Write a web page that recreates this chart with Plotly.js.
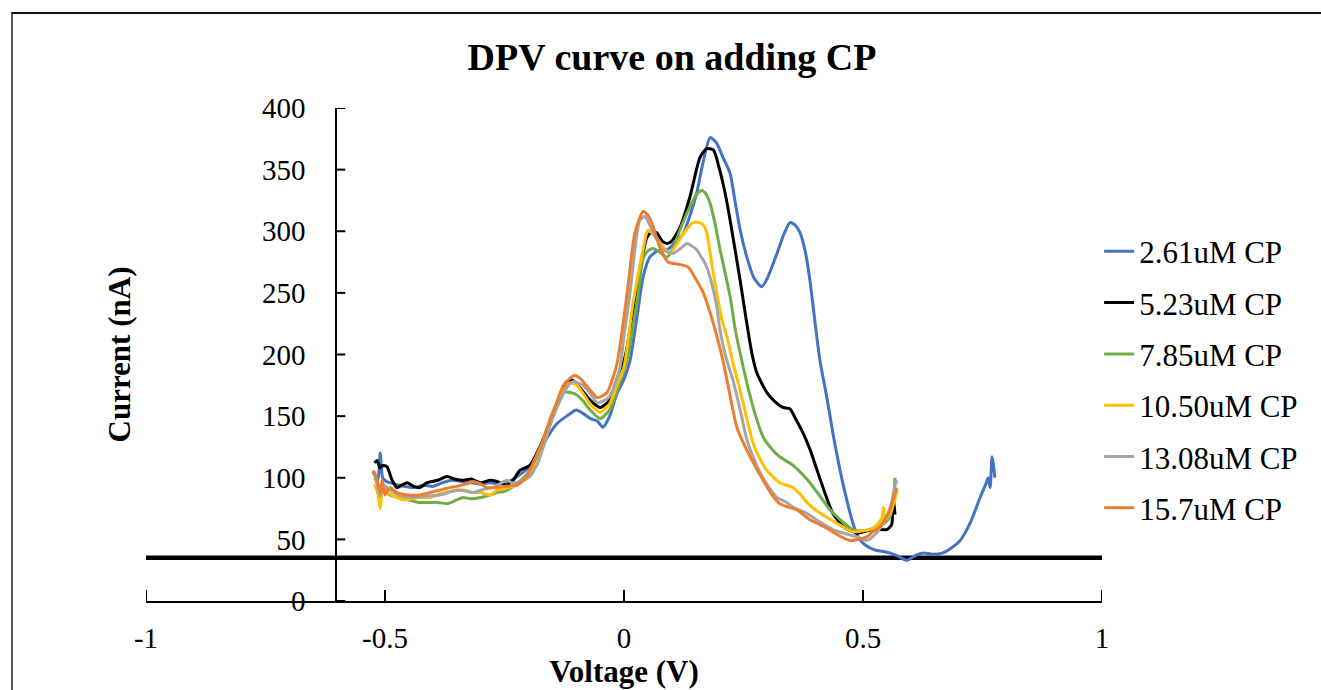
<!DOCTYPE html>
<html>
<head>
<meta charset="utf-8">
<script src="https://cdn.plot.ly/plotly-3.0.1.min.js"></script>
<style>
html,body{margin:0;padding:0;background:#fff;}
#wrap{position:relative;width:1321px;height:690px;overflow:hidden;}
#chart{position:absolute;left:0;top:0;width:1321px;height:690px;}
#frame{position:absolute;left:11px;top:12px;width:1400px;height:800px;border-top:2px solid #111;border-left:2px solid #555;pointer-events:none;}
</style>
</head>
<body>
<div id="wrap"><div id="chart"></div><div id="frame"></div></div>
<script>
// ---- data ----
const seriesNames = ["2.61uM CP", "5.23uM CP", "7.85uM CP", "10.50uM CP", "13.08uM CP", "15.7uM CP"];
const seriesColors = ["#4472C4", "#000000", "#70AD47", "#FFC000", "#A5A5A5", "#ED7D31"];

const v261 = [-0.525,-0.515,-0.51,-0.505,-0.497,-0.48,-0.46,-0.44,-0.42,-0.40,-0.38,-0.36,-0.34,-0.32,-0.30,-0.28,-0.26,-0.24,-0.22,-0.20,-0.18,-0.16,-0.14,-0.12,-0.10,-0.085,-0.07,-0.056,-0.044,-0.03,-0.015,0.0,0.0126,0.027,0.04,0.054,0.07,0.09,0.105,0.124,0.14,0.152,0.165,0.18,0.193,0.207,0.222,0.232,0.243,0.257,0.272,0.288,0.30,0.32,0.335,0.347,0.358,0.368,0.38,0.389,0.40,0.41,0.424,0.438,0.452,0.466,0.479,0.49,0.50,0.515,0.529,0.545,0.556,0.575,0.592,0.61,0.626,0.645,0.667,0.685,0.703,0.725,0.745,0.757,0.762,0.766,0.77,0.776];
const i261 = [105,98,120,100,97,95,93,92,94,93,96,98,97,96,95,96,95,97,102,108,118,133,144,150,155,152,148,146,141,150,168,180,195,230,263,279,284,285,290,298,315,331,355,376,372,360,347,325,301,279,262,255,262,282,298,307,305,299,282,260,225,195,166,134,106,82,63,52,47,43,41,40,39,36,33,37,39,38,39,43,49,64,84,95,100,92,117,100];

const v523 = [-0.522,-0.517,-0.51,-0.505,-0.496,-0.485,-0.475,-0.465,-0.454,-0.44,-0.427,-0.412,-0.39,-0.37,-0.355,-0.337,-0.32,-0.30,-0.28,-0.266,-0.245,-0.23,-0.218,-0.197,-0.176,-0.16,-0.148,-0.13,-0.12,-0.107,-0.09,-0.071,-0.05,-0.03,-0.015,0.0,0.006,0.027,0.048,0.058,0.068,0.08,0.09,0.10,0.117,0.138,0.159,0.173,0.187,0.20,0.212,0.222,0.243,0.257,0.268,0.278,0.299,0.315,0.333,0.347,0.36,0.375,0.39,0.404,0.42,0.437,0.46,0.487,0.51,0.529,0.55,0.56,0.563,0.567];
const i523 = [112,114,108,110,109,98,92,94,96,93,92,96,98,101,99,98,99,96,98,97,94,99,106,110,125,140,152,170,178,179,172,163,157,163,180,195,205,255,295,299,299,292,290,292,303,328,360,367,366,350,330,309,260,225,200,185,169,162,157,156,147,136,122,106,88,71,60,55,57,58,58,62,84,70];

const v785 = [-0.522,-0.515,-0.51,-0.505,-0.49,-0.47,-0.45,-0.43,-0.406,-0.39,-0.37,-0.35,-0.337,-0.32,-0.30,-0.28,-0.266,-0.25,-0.232,-0.215,-0.197,-0.18,-0.16,-0.145,-0.128,-0.11,-0.098,-0.085,-0.071,-0.05,-0.03,-0.015,0.006,0.027,0.04,0.05,0.061,0.075,0.09,0.105,0.117,0.138,0.152,0.163,0.172,0.18,0.19,0.20,0.222,0.232,0.243,0.264,0.278,0.291,0.31,0.326,0.354,0.37,0.389,0.41,0.431,0.455,0.479,0.50,0.529,0.545,0.556,0.563,0.567];
const i785 = [100,95,88,92,86,84,82,80,80,80,79,82,84,83,84,86,88,89,93,98,106,120,139,155,169,169,167,162,155,148,155,170,195,242,278,284,286,283,279,288,301,320,330,333,330,323,307,287,247,222,201,166,147,133,123,117,110,104,96,85,74,65,58,57,60,63,68,80,100];

const v1050 = [-0.522,-0.515,-0.51,-0.505,-0.495,-0.475,-0.454,-0.43,-0.406,-0.385,-0.36,-0.337,-0.316,-0.30,-0.28,-0.266,-0.245,-0.224,-0.20,-0.182,-0.165,-0.148,-0.13,-0.113,-0.098,-0.085,-0.071,-0.05,-0.03,-0.015,0.0,0.019,0.04,0.05,0.06,0.071,0.085,0.096,0.11,0.124,0.145,0.158,0.166,0.173,0.183,0.194,0.205,0.215,0.228,0.243,0.257,0.27,0.285,0.299,0.326,0.354,0.37,0.383,0.40,0.424,0.45,0.479,0.50,0.515,0.53,0.54,0.543,0.546,0.555,0.565,0.571];
const i1050 = [95,87,75,90,88,84,82,84,84,87,89,90,88,88,86,90,92,94,102,112,130,152,168,177,175,168,160,153,160,175,190,242,285,301,298,293,286,282,289,298,307,307,305,299,275,250,228,215,193,171,148,128,115,106,96,92,86,80,74,68,62,56,57,58,62,68,76,66,70,80,90];

const v1308 = [-0.522,-0.515,-0.51,-0.505,-0.49,-0.47,-0.441,-0.42,-0.385,-0.35,-0.33,-0.316,-0.29,-0.274,-0.26,-0.245,-0.235,-0.224,-0.21,-0.197,-0.18,-0.169,-0.155,-0.14,-0.12,-0.107,-0.086,-0.07,-0.056,-0.04,-0.03,-0.015,-0.008,0.0,0.0126,0.033,0.044,0.053,0.061,0.072,0.082,0.103,0.118,0.132,0.142,0.152,0.165,0.173,0.184,0.194,0.20,0.213,0.228,0.243,0.257,0.27,0.285,0.30,0.32,0.34,0.354,0.383,0.41,0.437,0.46,0.487,0.508,0.52,0.53,0.542,0.55,0.56,0.566,0.571];
const i1308 = [105,92,85,95,90,86,84,85,86,90,89,88,91,92,95,98,96,96,98,101,112,125,142,157,173,178,175,168,161,163,166,180,190,215,250,309,312,306,299,291,285,282,286,290,288,285,277,271,257,239,222,198,179,155,131,117,104,94,84,80,76,71,64,58,55,52,49,52,56,63,68,80,92,98];

const v157 = [-0.525,-0.518,-0.51,-0.506,-0.50,-0.49,-0.475,-0.45,-0.427,-0.405,-0.385,-0.365,-0.35,-0.33,-0.316,-0.30,-0.287,-0.27,-0.253,-0.224,-0.205,-0.19,-0.172,-0.155,-0.14,-0.128,-0.115,-0.103,-0.09,-0.077,-0.066,-0.056,-0.036,-0.015,0.006,0.023,0.04,0.05,0.058,0.075,0.092,0.117,0.134,0.152,0.166,0.187,0.207,0.215,0.236,0.25,0.264,0.291,0.31,0.326,0.345,0.362,0.389,0.41,0.424,0.45,0.473,0.49,0.508,0.52,0.535,0.556,0.565,0.571];
const i157 = [106,100,88,98,86,92,88,86,86,88,90,92,93,95,97,95,92,92,93,94,100,112,128,147,162,174,180,183,180,174,169,165,169,192,248,299,316,313,307,287,275,273,271,260,250,225,195,180,141,128,117,98,86,79,76,74,66,62,59,53,49,50,52,56,60,74,85,92];

const baselineX = [-1, 1];
const baselineY = [35, 35];

const xTickVals = [-1, -0.5, 0, 0.5, 1];
const xTickText = ["-1", "-0.5", "0", "0.5", "1"];
const yTickVals = [0, 50, 100, 150, 200, 250, 300, 350, 400];
const yTickText = ["0", "50", "100", "150", "200", "250", "300", "350", "400"];

// ---- axes setup ----
const FONT = "Liberation Serif";
const X_RANGE = [-1, 1];
const Y_RANGE = [0, 400];
const Y_CROSS_X = -0.604;   // the value axis crosses the category axis here
const Y_POS = (Y_CROSS_X - X_RANGE[0]) / (X_RANGE[1] - X_RANGE[0]);
const PLOT_W = 1321 - 146 - 219, PLOT_H = 690 - 108 - 89;
const X_TICK_LEN = 11 * (Y_RANGE[1] - Y_RANGE[0]) / PLOT_H;   // 11 px upward, in data units
const Y_TICK_LEN = 10 * (X_RANGE[1] - X_RANGE[0]) / PLOT_W;   // 10 px rightward, in data units

const xs = [v261, v523, v785, v1050, v1308, v157];
const ys = [i261, i523, i785, i1050, i1308, i157];

const traces = [
  // inward tick marks, drawn as one-sided error bars anchored on the tick values
  {
    x: xTickVals, y: xTickVals.map(() => Y_RANGE[0]), type: "scatter", mode: "markers",
    marker: {size: 1, color: "rgba(0,0,0,0)"}, cliponaxis: false,
    error_y: {type: "constant", value: X_TICK_LEN, valueminus: 0, symmetric: false,
              width: 0, thickness: 2, color: "#000"},
    showlegend: false, hoverinfo: "skip"
  },
  {
    x: yTickVals.map(() => Y_CROSS_X), y: yTickVals, type: "scatter", mode: "markers",
    marker: {size: 1, color: "rgba(0,0,0,0)"}, cliponaxis: false,
    error_x: {type: "constant", value: Y_TICK_LEN, valueminus: 0, symmetric: false,
              width: 0, thickness: 2, color: "#000"},
    showlegend: false, hoverinfo: "skip"
  },
  {
    x: baselineX, y: baselineY, mode: "lines", type: "scatter",
    line: {color: "#000", width: 4.5}, showlegend: false, hoverinfo: "skip"
  }
];
for (let k = 0; k < seriesNames.length; k++) {
  traces.push({
    x: xs[k], y: ys[k], name: seriesNames[k], type: "scatter", mode: "lines",
    legendgroup: "g" + k,
    line: {color: seriesColors[k], width: 3, shape: "spline", smoothing: 0.6}
  });
}

const layout = {
  width: 1321, height: 690,
  margin: {l: 146, r: 219, t: 108, b: 89},
  font: {family: FONT, color: "#000"},
  showlegend: true,
  title: {
    text: "DPV curve on adding CP",
    font: {family: FONT, size: 38, weight: "bold", color: "#000"},
    x: 672 / 1321, xref: "container", xanchor: "center",
    y: 1 - 57 / 690, yref: "container", yanchor: "middle"
  },
  xaxis: {
    range: X_RANGE, tickmode: "array", tickvals: xTickVals, ticktext: xTickText,
    ticks: "",
    showline: true, linecolor: "#000", linewidth: 1.5,
    showgrid: false, zeroline: false,
    tickfont: {family: FONT, size: 29, color: "#000"},
    ticklabelstandoff: 11,
    title: {text: "Voltage (V)", font: {family: FONT, size: 31, weight: "bold"}, standoff: 4}
  },
  yaxis: {
    range: Y_RANGE, tickmode: "array", tickvals: yTickVals, ticktext: yTickText,
    anchor: "free", position: Y_POS,
    ticks: "",
    showline: true, linecolor: "#000", linewidth: 1.5,
    showgrid: false, zeroline: false,
    tickfont: {family: FONT, size: 29, color: "#000"},
    ticklabelstandoff: 24,
    title: {text: "Current (nA)", font: {family: FONT, size: 31, weight: "bold"}, standoff: 120}
  },
  legend: {
    x: 0.997, xanchor: "left", y: 0.449, yanchor: "middle",
    font: {family: FONT, size: 31, color: "#000"},
    traceorder: "grouped", tracegroupgap: 8,
    bgcolor: "rgba(0,0,0,0)", borderwidth: 0
  }
};

Plotly.newPlot("chart", traces, layout, {displayModeBar: false, staticPlot: true});
</script>
</body>
</html>
